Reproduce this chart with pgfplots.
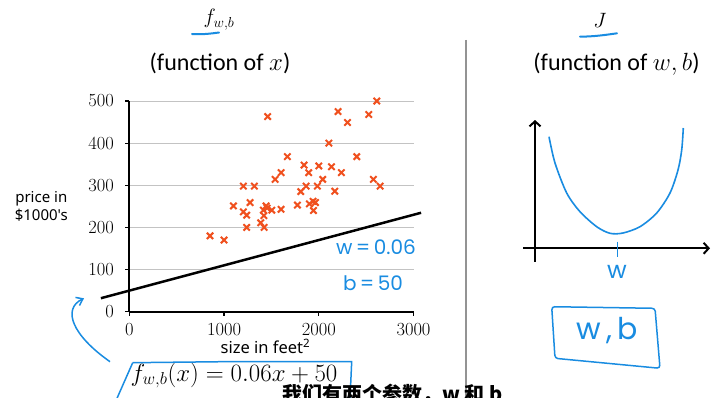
\documentclass[border=0pt]{standalone}
\usepackage{pgfplots}
\pgfplotsset{compat=1.18}
\usepackage{fontspec}
\usetikzlibrary{arrows.meta}
\newfontfamily\labelfont{Noto Sans}
\newfontfamily\titlefont{Carlito}
\newfontfamily\handfont{Poppins}
\newfontfamily\cjk{Noto Sans CJK SC}
\definecolor{pts}{RGB}{240,80,30}
\definecolor{hand}{RGB}{25,140,225}
\definecolor{gridc}{RGB}{195,195,195}
\begin{document}
\begin{tikzpicture}[x=1pt,y=1pt]
\fill[white] (0,0) rectangle (717,397);
\useasboundingbox (0,0) rectangle (717,397);
% ---------------- left: scatter + model ----------------
\begin{axis}[
  at={(129.3pt,85.3pt)}, anchor=south west,
  scale only axis, width=284.2pt, height=210.7pt,
  xmin=0, xmax=3000, ymin=0, ymax=500,
  axis x line*=bottom, axis y line*=left,
  axis line style={-, line width=2.2pt, black},
  xtick={0,1000,2000,3000}, ytick={0,100,...,500},
  ymajorgrids, grid style={gridc, line width=1pt},
  tick align=outside, major tick length=4pt,
  tick style={black, line width=1.2pt},
  /pgf/number format/assume math mode=true,
  /pgf/number format/1000 sep={},
  ticklabel style={font=\fontsize{18.5}{18.5}\selectfont},
  scaled x ticks=false,
  xticklabel style={yshift=-4pt},
  yticklabel style={xshift=-8pt},
  clip=false,
  xlabel={size in feet\textsuperscript{2}},
  xlabel style={font=\labelfont\fontsize{16.5}{17}\selectfont, at={(axis description cs:0.5,0)}, anchor=base, xshift=-6pt, yshift=-42pt},
  ylabel={price in\\\$1000's},
  ylabel style={rotate=-90, align=center, font=\labelfont\fontsize{15}{18}\selectfont, at={(axis description cs:0,0.5)}, anchor=center, xshift=-88pt, yshift=0pt},
]
\addplot[only marks, mark=x, mark size=4.5pt, mark options={line width=2pt, pts}] coordinates {
(852,180) (1000,170) (1099,251) (1204,298) (1204,237) (1239,229) (1239,200)
(1275,259) (1320,298) (1461,463) (1387,211) (1423,200) (1415,241) (1444,251)
(1455,246) (1504,241) (1602,243) (1539,314) (1602,330) (1669,368) (1775,253)
(1810,285) (1845,348) (1866,298) (1894,330) (1901,256) (1944,240) (1965,259)
(1986,298) (2000,346) (2042,314) (2106,400) (2134,344) (2169,286) (2239,330)
(2204,475) (2303,449) (2401,368) (2528,468) (2577,314) (2613,500) (2648,298)
(1420,228) (1940,262)
};
\addplot[black, line width=2.5pt] coordinates {(-300,32) (3080,234.8)};
\end{axis}
% ---------------- right: cost sketch ----------------
\begin{axis}[
  at={(523pt,135.3pt)}, anchor=south west,
  scale only axis, width=187pt, height=141.7pt,
  xmin=-12, xmax=175, ymin=-13.4, ymax=128.3,
  axis lines=middle,
  axis line style={line width=2.2pt, black, -{Straight Barb[length=5pt, width=11pt, line width=2pt]}},
  xtick=\empty, ytick=\empty, clip=false,
]
\addplot[hand, line width=1.6pt, smooth] coordinates {
(14,111.6) (20,85.3) (31.7,55.3) (45,36.6) (61.7,21.6) (75,15) (88,15.3)
(105,21.6) (121.7,35.3) (135,55.3) (143,78.3) (146.7,98.3) (148.3,120.3)
};
\addplot[hand, line width=1.6pt] coordinates {(82.3,6.6) (82.3,-8.4)};
\end{axis}
% ---------------- titles ----------------
\node[anchor=base, font=\fontsize{21}{21}\selectfont] at (219,373) {$f_{w,b}$};
\draw[hand, line width=2pt, line cap=round] (192,363) .. controls (200,362.3) and (210,363.2) .. (219,364.5);
\node[anchor=base, font=\fontsize{20}{20}\selectfont] at (600,369) {$J$};
\draw[hand, line width=2pt, line cap=round] (580,360.3) .. controls (595,360.5) and (605,362) .. (617,363.7);
\node[anchor=base, font=\titlefont\fontsize{24}{24}\selectfont] at (220,326) {(function of $x$)};
\node[anchor=base, font=\titlefont\fontsize{24}{24}\selectfont] at (616.5,326) {(function of $w,b$)};
\draw[gray!85, line width=1.8pt] (466,357) -- (466,0);
% ---------------- hand annotations ----------------
\node[hand, font=\handfont\fontsize{20}{20}\selectfont, anchor=base] at (376,143) {w\,=\,0.06};
\node[hand, font=\handfont\fontsize{20}{20}\selectfont, anchor=base] at (373,107) {b\,=\,50};
\node[hand, font=\handfont\fontsize{24}{24}\selectfont, anchor=base] at (617,119) {w};
\node[hand, font=\handfont\fontsize{30}{30}\selectfont, anchor=base] at (607,58) {w\,,\,b};
\draw[hand, line width=1.5pt, rounded corners=3pt] (551.7,90.3) -- (655,88.7) -- (660,28.7) -- (555,38.7) -- cycle;
\draw[hand, line width=1.5pt, -{Straight Barb[length=6pt, width=9pt]}] (110,35.3) .. controls (72,62) and (62,88) .. (84,98.7);
\node[anchor=base, font=\fontsize{23}{23}\selectfont] at (234,16) {$f_{w,b}(x) = 0.06x + 50$};
\draw[hand, line width=1.5pt] (132.7,34.3) -- (240,35.5) -- (351.7,35.3) -- (350,-2) ;
\draw[hand, line width=1.5pt] (132.7,34.3) -- (116.7,-2);
% ---------------- subtitle (cut off at the bottom edge, as in the reference) ----------------
\node[anchor=base west, font=\cjk\bfseries\fontsize{20}{20}\selectfont, inner sep=0pt] at (282,-4.5) {我们有两个参数，w 和 b};
\end{tikzpicture}
\end{document}
